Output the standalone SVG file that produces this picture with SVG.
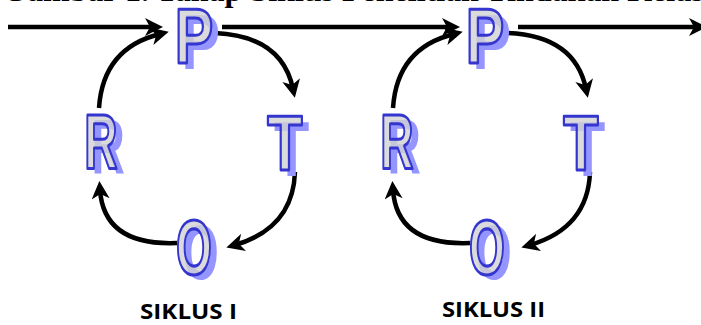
<svg xmlns="http://www.w3.org/2000/svg" width="701" height="325" viewBox="0 0 701 325">
<style>
.cap{font-family:"Liberation Serif",serif;font-weight:bold;font-size:32px;fill:#000}
.lbl{font-family:"Open Sans","Liberation Sans",sans-serif;font-weight:bold;font-size:22px;fill:#000}
.ltr{font-family:"Liberation Sans",Arial,sans-serif;font-weight:bold;font-size:77px;text-anchor:middle}
.sh{fill:#9595ff}
.fr{fill:#d2d2d2;fill-opacity:0.8;stroke:#3535d0;stroke-width:2.6;vector-effect:non-scaling-stroke;stroke-linejoin:round}
.ln{fill:none;stroke:#000;stroke-width:4.5}
</style>
<defs>
<marker id="ah" markerUnits="userSpaceOnUse" markerWidth="20" markerHeight="18" refX="9" refY="9" orient="auto" viewBox="0 0 20 18">
<path d="M0,0 L18,9 L0,18 L5,9 z" fill="#000"/>
</marker>
<g id="gP"><text class="ltr sh" x="9" y="6">P</text><text class="ltr fr" x="0" y="0">P</text></g>
<g id="gR"><text class="ltr sh" x="12" y="5">R</text><text class="ltr fr" x="0" y="0">R</text></g>
<g id="gT"><text class="ltr sh" x="9" y="6">T</text><text class="ltr fr" x="0" y="0">T</text></g>
<g id="gO"><text class="ltr sh" x="11" y="5">O</text><text class="ltr fr" x="0" y="0">O</text></g>
</defs>
<text class="cap" x="2" y="0.5">Gambar 1. Tahap Siklus Penelitian Tindakan Kelas</text>
<g id="connectors">
<path class="ln" d="M8,27 H154" marker-end="url(#ah)"/>
<path class="ln" d="M222,27 H451" marker-end="url(#ah)"/>
<path class="ln" d="M518,27 H698" marker-end="url(#ah)"/>
<path class="ln" d="M99,108 Q103,48 160,34" marker-end="url(#ah)"/>
<path class="ln" d="M215,33 Q282,36 293,89" marker-end="url(#ah)"/>
<path class="ln" d="M295,172 Q293,228 235,245" marker-end="url(#ah)"/>
<path class="ln" d="M177,243 Q104,246 100,190" marker-end="url(#ah)"/>
<path class="ln" d="M393,108 Q397,48 454,34" marker-end="url(#ah)"/>
<path class="ln" d="M508,33 Q575,36 586,89" marker-end="url(#ah)"/>
<path class="ln" d="M590,172 Q588,228 530,245" marker-end="url(#ah)"/>
<path class="ln" d="M470,243 Q397,246 393,190" marker-end="url(#ah)"/>
</g>
<g id="P1"><use href="#gP" transform="translate(194,63) scale(0.75,1)"/></g>
<g id="T1"><use href="#gT" transform="translate(285,170) scale(0.75,1)"/></g>
<g id="O1"><use href="#gO" transform="translate(194,274) scale(0.6,1)"/></g>
<g id="R1"><use href="#gR" transform="translate(101,168) scale(0.6,1)"/></g>
<g id="P2"><use href="#gP" transform="translate(485,63) scale(0.75,1)"/></g>
<g id="T2"><use href="#gT" transform="translate(581,170) scale(0.75,1)"/></g>
<g id="O2"><use href="#gO" transform="translate(487,274) scale(0.6,1)"/></g>
<g id="R2"><use href="#gR" transform="translate(397,168) scale(0.6,1)"/></g>
<text id="siklus1" class="lbl" x="140" y="319" textLength="97" lengthAdjust="spacingAndGlyphs">SIKLUS I</text>
<text id="siklus2" class="lbl" x="442" y="317" textLength="103" lengthAdjust="spacingAndGlyphs">SIKLUS II</text>
</svg>
